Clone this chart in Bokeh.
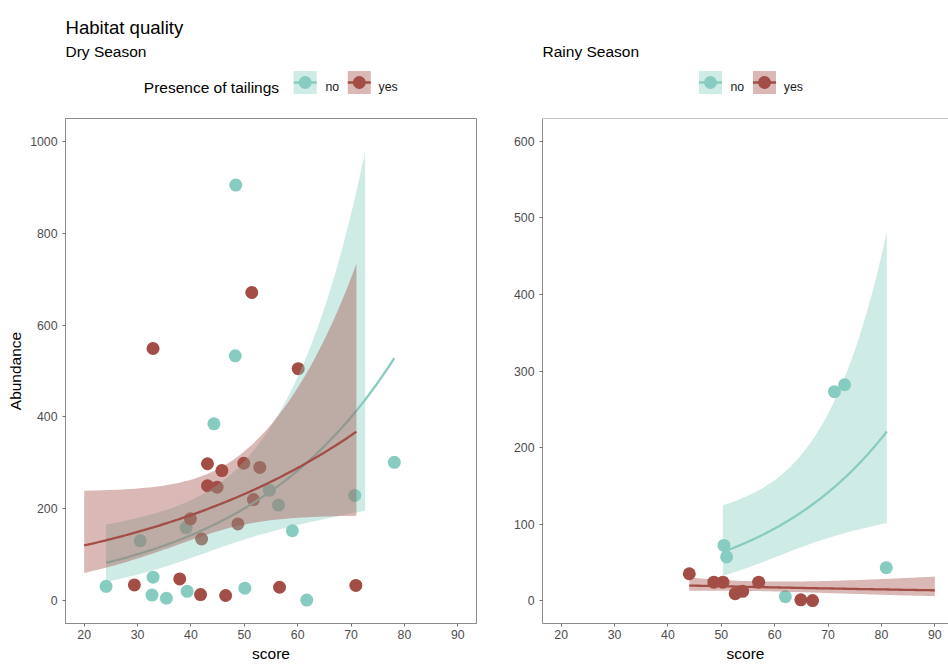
import numpy as np
from bokeh.plotting import figure
from bokeh.layouts import column, row
from bokeh.models import Range1d, FixedTicker, Span, ColumnDataSource
from bokeh.core.properties import value
from bokeh.embed import file_html
from bokeh.resources import INLINE

FONT = "Liberation Sans"

# Presence of tailings groups and their colours
groups = ["no", "yes"]
group_colors = ["#88CCC1", "#A24D45"]

# Dry season observations (habitat quality score vs abundance)
dry_no_score = [24.1, 30.5, 32.7, 32.9, 35.4, 39.1, 39.3, 44.3, 48.3, 48.4, 50.1,
                54.7, 56.4, 59.0, 61.7, 70.7, 78.1]
dry_no_abund = [31, 130, 12, 51, 5, 159, 20, 385, 533, 905, 27,
                240, 208, 152, 1, 229, 301]
dry_yes_score = [29.4, 32.9, 37.9, 39.9, 41.8, 42.0, 43.1, 43.1, 44.9, 45.8, 46.5,
                 48.8, 49.9, 51.4, 51.7, 52.9, 56.6, 60.1, 70.9]
dry_yes_abund = [34, 549, 47, 178, 13, 134, 298, 250, 247, 283, 11,
                 167, 299, 671, 220, 290, 29, 505, 33]

# Rainy season observations
rainy_no_score = [50.5, 51.0, 62.0, 71.2, 73.1, 80.9]
rainy_no_abund = [72, 57, 5, 273, 282, 43]
rainy_yes_score = [44.0, 48.6, 50.3, 52.6, 54.0, 57.0, 64.9, 67.1]
rainy_yes_abund = [35, 24, 24, 9, 12, 24, 1, 0]

# Log-link count model per group: eta = intercept + slope * score,
# se(eta) = sqrt(se_min^2 + (se_growth * (score - se_center))^2)
dry_fit_intercept = [3.581, 4.348]
dry_fit_slope = [0.03442, 0.02197]
dry_fit_se_min = [0.204, 0.163]
dry_fit_se_center = [46.0, 45.5]
dry_fit_se_growth = [0.01337, 0.01224]
dry_fit_xmin = [24.1, 20.0]
dry_fit_xmax = [78.1, 71.0]

rainy_fit_intercept = [2.109, 3.342]
rainy_fit_slope = [0.0406, -0.0083]
rainy_fit_se_min = [0.255, 0.179]
rainy_fit_se_center = [63.5, 55.0]
rainy_fit_se_growth = [0.01745, 0.01129]
rainy_fit_xmin = [50.3, 44.0]
rainy_fit_xmax = [81.0, 90.0]

# Scale limits and ticks
x_limits = [20, 90]
dry_y_limits = [0, 1000]
rainy_y_limits = [0, 600]
x_ticks = [20, 30, 40, 50, 60, 70, 80, 90]
dry_y_ticks = [0, 200, 400, 600, 800, 1000]
rainy_y_ticks = [0, 100, 200, 300, 400, 500, 600]

Z = 1.96
BORDER = "#8c8c8c"
TICK = "#707070"
TICK_TEXT = "#4D4D4D"


def expand(lims, frac=0.05):
    span = lims[1] - lims[0]
    return lims[0] - frac * span, lims[1] + frac * span


def style_axis(ax):
    ax.axis_line_color = BORDER
    ax.axis_line_width = 1
    ax.major_tick_line_color = TICK
    ax.major_tick_in = 0
    ax.major_tick_out = 3
    ax.minor_tick_line_color = None
    ax.major_label_text_font = FONT
    ax.major_label_text_font_size = "12.3px"
    ax.major_label_text_color = TICK_TEXT
    ax.axis_label_text_font = FONT
    ax.axis_label_text_font_size = "15.5px"
    ax.axis_label_text_font_style = "normal"
    ax.axis_label_text_color = "#000000"


def make_panel(obs, fit, y_limits, y_ticks, width, left, right, x_end, ylabel, full_box):
    x0, _ = expand(x_limits)
    y0, y1 = expand(y_limits)
    p = figure(width=width, height=560, x_range=Range1d(x0, x_end), y_range=Range1d(y0, y1),
               output_backend="svg", toolbar_location=None, tools="",
               min_border_left=left, min_border_right=right,
               min_border_top=8, min_border_bottom=47)
    p.xgrid.visible = False
    p.ygrid.visible = False
    p.background_fill_color = "white"
    p.border_fill_color = "white"
    if full_box:
        p.outline_line_color = BORDER
        p.outline_line_width = 1
    else:
        # open on the right: only the top edge is added to the axis lines
        p.outline_line_color = None
        p.add_layout(Span(location=y1, dimension="width", line_color=BORDER, line_width=1))

    p.xaxis.ticker = FixedTicker(ticks=x_ticks)
    p.yaxis.ticker = FixedTicker(ticks=y_ticks)
    for ax in list(p.xaxis) + list(p.yaxis):
        style_axis(ax)
    p.xaxis.axis_label = "score"
    p.xaxis.major_label_standoff = 3
    p.xaxis.axis_label_standoff = 3
    p.yaxis.major_label_standoff = 5
    p.yaxis.axis_label_standoff = 3
    if ylabel:
        p.yaxis.axis_label = ylabel

    # observed counts
    for (sx, sy), color in zip(obs, group_colors):
        p.scatter(sx, sy, size=13, fill_color=color, line_color=None)

    # fitted curves with confidence ribbons
    b0s, b1s, smin, sc, sg, xmins, xmaxs = fit
    for i, color in enumerate(group_colors):
        xs = np.linspace(xmins[i], xmaxs[i], 80)
        eta = b0s[i] + b1s[i] * xs
        se = np.sqrt(smin[i] ** 2 + (sg[i] * (xs - sc[i])) ** 2)
        mean = np.exp(eta)
        lo = np.exp(eta - Z * se)
        hi = np.exp(eta + Z * se)
        ok = (hi <= y_limits[1]) & (lo >= y_limits[0])
        src = ColumnDataSource(dict(x=xs[ok], lo=lo[ok], hi=hi[ok]))
        p.varea(x="x", y1="lo", y2="hi", source=src, fill_color=color, fill_alpha=0.4)
        p.line(xs, mean, line_color=color, line_width=2.3)
    return p


dry_obs = [(dry_no_score, dry_no_abund), (dry_yes_score, dry_yes_abund)]
dry_fit = (dry_fit_intercept, dry_fit_slope, dry_fit_se_min, dry_fit_se_center,
           dry_fit_se_growth, dry_fit_xmin, dry_fit_xmax)
rainy_obs = [(rainy_no_score, rainy_no_abund), (rainy_yes_score, rainy_yes_abund)]
rainy_fit = (rainy_fit_intercept, rainy_fit_slope, rainy_fit_se_min, rainy_fit_se_center,
             rainy_fit_se_growth, rainy_fit_xmin, rainy_fit_xmax)

p_dry = make_panel(dry_obs, dry_fit, dry_y_limits, dry_y_ticks, 480, 65, 4,
                   expand(x_limits)[1], "Abundance", True)
p_rainy = make_panel(rainy_obs, rainy_fit, rainy_y_limits, rainy_y_ticks, 468, 62, 0,
                     16.5 + 406 / (411 / 77.0), None, False)

# Header: title, panel subtitles and legends (pixel coordinates, y downwards)
head = figure(width=948, height=110, x_range=Range1d(0, 948), y_range=Range1d(110, 0),
              output_backend="svg", toolbar_location=None, tools="",
              x_axis_type=None, y_axis_type=None, min_border=0)
head.outline_line_color = None
head.background_fill_color = "white"
head.border_fill_color = "white"

head.text([65], [27.3], text=["Habitat quality"], text_font=value(FONT),
          text_font_size="18.6px", text_color="#000000", text_baseline="alphabetic")
head.text([65, 542], [50.7, 50.7], text=["Dry Season", "Rainy Season"], text_font=value(FONT),
          text_font_size="15.5px", text_color="#000000", text_baseline="alphabetic")
head.text([143.3], [87.3], text=["Presence of tailings"], text_font=value(FONT),
          text_font_size="15.5px", text_color="#000000", text_baseline="alphabetic")

key_centers = [[304.7, 358.8], [710.0, 764.0]]
label_left = [[325.0, 378.0], [730.0, 783.3]]
KEY = 23
for centers, lefts in zip(key_centers, label_left):
    for cx, lx, name, color in zip(centers, lefts, groups, group_colors):
        head.rect([cx], [82], width=KEY, height=KEY, fill_color=color, fill_alpha=0.4,
                  line_color=None)
        head.line([cx - KEY / 2, cx + KEY / 2], [82, 82], line_color=color, line_width=2.3)
        head.scatter([cx], [82], size=13, fill_color=color, line_color=None)
        head.text([lx], [86.8], text=[name], text_font=value(FONT), text_font_size="12.3px",
                  text_color="#1a1a1a", text_baseline="alphabetic")

layout = column(head, row(p_dry, p_rainy))
open("out.html", "w").write(file_html(layout, INLINE))
